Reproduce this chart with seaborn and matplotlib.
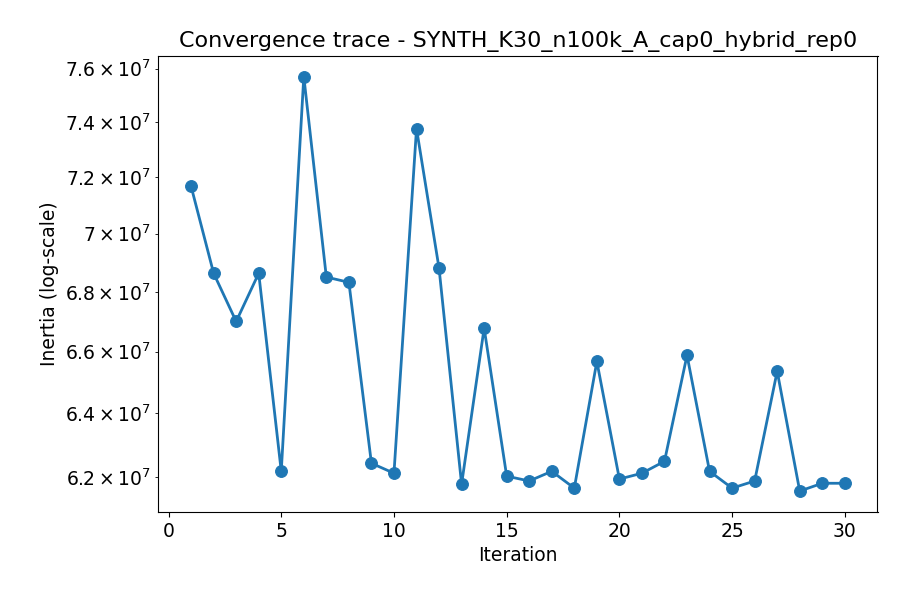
import matplotlib
matplotlib.use('Agg')
import matplotlib.pyplot as plt
import seaborn as sns
import pandas as pd

iterations = list(range(1, 31))
inertia_e7 = [7.167, 6.863, 6.70, 6.863, 6.218, 7.57, 6.85, 6.832, 6.243, 6.212,
              7.376, 6.88, 6.178, 6.678, 6.203, 6.188, 6.218, 6.166, 6.568, 6.194,
              6.212, 6.249, 6.588, 6.218, 6.166, 6.188, 6.536, 6.157, 6.181, 6.181]

df = pd.DataFrame({'Iteration': iterations, 'Inertia': [v * 1e7 for v in inertia_e7]})

fig, ax = plt.subplots(figsize=(9, 6), dpi=100)
sns.lineplot(data=df, x='Iteration', y='Inertia', marker='o', markersize=8.5,
             linewidth=2, color='#1f77b4', markeredgecolor='#1f77b4', ax=ax)
ax.set_yscale('log')
ax.set_xlabel('Iteration', fontsize=13.5)
ax.set_ylabel('Inertia (log-scale)', fontsize=13.5)
ax.set_title('Convergence trace - SYNTH_K30_n100k_A_cap0_hybrid_rep0', fontsize=16)
ax.tick_params(axis='both', which='both', labelsize=13.5)
fig.subplots_adjust(left=0.176, right=0.975, top=0.907, bottom=0.147)
plt.savefig('out.png')
